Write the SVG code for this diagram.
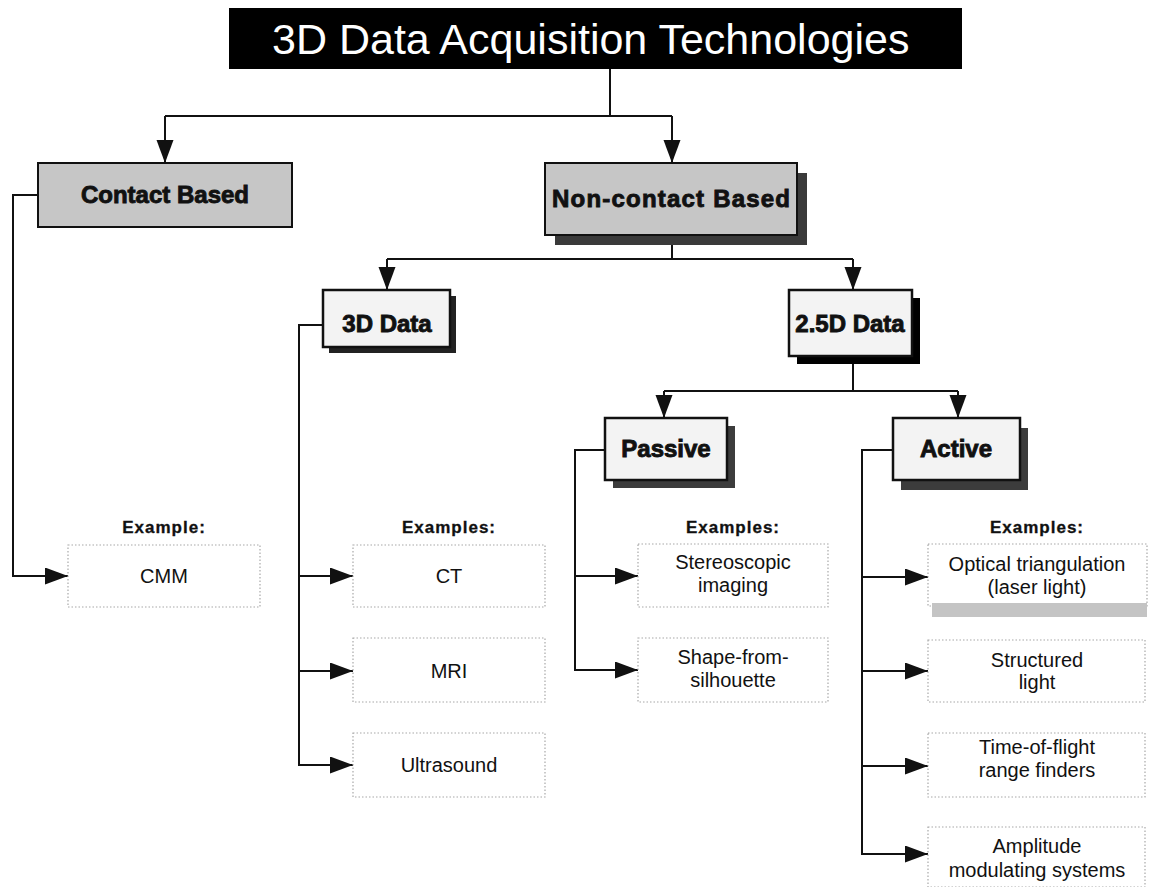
<svg xmlns="http://www.w3.org/2000/svg" width="1150" height="887" viewBox="0 0 1150 887">
<style>
.title{font-family:"Liberation Sans",Arial,sans-serif;font-size:43px;fill:#fff}
.nl{font-family:"Liberation Sans",Arial,sans-serif;font-weight:bold;font-size:24px;fill:#111;stroke:#111;stroke-width:0.9;text-anchor:middle}
.ex{font-family:"Liberation Sans",Arial,sans-serif;font-weight:bold;font-size:17px;letter-spacing:1px;fill:#111;stroke:#111;stroke-width:0.3;text-anchor:middle}
.et{font-family:"Liberation Sans",Arial,sans-serif;font-size:20px;fill:#111;text-anchor:middle}
.dark{fill:#c6c6c6;stroke:#111;stroke-width:2}
.light{fill:#f3f3f3;stroke:#111;stroke-width:2.5}
.eb{fill:#fff;stroke:#a8a8a8;stroke-width:1.2;stroke-dasharray:1.5 2}
.conn{fill:none;stroke:#111;stroke-width:2}
</style>
<defs>
<marker id="ah" markerUnits="userSpaceOnUse" markerWidth="24" markerHeight="18" refX="23" refY="8.5" orient="auto">
<path d="M0,0 L23,8.5 L0,17 z" fill="#111"/>
</marker>
</defs>
<rect width="1150" height="887" fill="#fff"/>

<g id="title">
<rect x="229" y="8" width="733" height="61" fill="#000"/>
<text class="title" x="272" y="54">3D Data Acquisition Technologies</text>
</g>

<g id="connectors">
<path class="conn" d="M610,69 V116"/>
<path class="conn" d="M165,116 H672"/>
<path class="conn" d="M165,116 V163" marker-end="url(#ah)"/>
<path class="conn" d="M672,116 V163" marker-end="url(#ah)"/>
<path class="conn" d="M672,245 V259"/>
<path class="conn" d="M387,259 H853"/>
<path class="conn" d="M387,259 V290" marker-end="url(#ah)"/>
<path class="conn" d="M853,259 V290" marker-end="url(#ah)"/>
<path class="conn" d="M853,364 V391"/>
<path class="conn" d="M664,391 H958"/>
<path class="conn" d="M664,391 V418" marker-end="url(#ah)"/>
<path class="conn" d="M958,391 V418" marker-end="url(#ah)"/>
<path class="conn" d="M38,195 H13 V576 H68" marker-end="url(#ah)"/>
<path class="conn" d="M323,325 H299 V765 H353" marker-end="url(#ah)"/>
<path class="conn" d="M299,576 H353" marker-end="url(#ah)"/>
<path class="conn" d="M299,671 H353" marker-end="url(#ah)"/>
<path class="conn" d="M605,450 H575 V670 H638" marker-end="url(#ah)"/>
<path class="conn" d="M575,576 H638" marker-end="url(#ah)"/>
<path class="conn" d="M893,450 H862 V854 H928" marker-end="url(#ah)"/>
<path class="conn" d="M862,577 H928" marker-end="url(#ah)"/>
<path class="conn" d="M862,671 H928" marker-end="url(#ah)"/>
<path class="conn" d="M862,766 H928" marker-end="url(#ah)"/>
</g>

<g id="contact-based">
<rect class="dark" x="38" y="163" width="254" height="64"/>
<text class="nl" x="165" y="203">Contact Based</text>
</g>

<g id="non-contact-based">
<rect x="555" y="173" width="252" height="72" fill="#3a3a3a"/>
<rect class="dark" x="545" y="163" width="252" height="72"/>
<text class="nl" x="671" y="207" textLength="238" lengthAdjust="spacing">Non-contact Based</text>
</g>

<g id="data-3d">
<rect x="329" y="296" width="127" height="57" fill="#222"/>
<rect class="light" x="323" y="290" width="127" height="57"/>
<text class="nl" x="387" y="332">3D Data</text>
</g>

<g id="data-25d">
<rect x="797" y="298" width="123" height="66" fill="#000"/>
<rect class="light" x="789" y="290" width="123" height="66"/>
<text class="nl" x="850" y="332">2.5D Data</text>
</g>

<g id="passive">
<rect x="613" y="426" width="122" height="62" fill="#3c3c3c"/>
<rect class="light" x="605" y="418" width="122" height="62"/>
<text class="nl" x="666" y="457">Passive</text>
</g>

<g id="active">
<rect x="901" y="428" width="127" height="62" fill="#3c3c3c"/>
<rect class="light" x="893" y="418" width="127" height="62"/>
<text class="nl" x="956" y="457">Active</text>
</g>

<g id="label-example-contact"><text class="ex" x="164" y="533">Example:</text></g>
<g id="label-examples-3d"><text class="ex" x="449" y="533">Examples:</text></g>
<g id="label-examples-passive"><text class="ex" x="733" y="533">Examples:</text></g>
<g id="label-examples-active"><text class="ex" x="1037" y="533">Examples:</text></g>

<g id="ex-cmm">
<rect class="eb" x="68" y="545" width="192" height="62"/>
<text class="et" x="164" y="583">CMM</text>
</g>
<g id="ex-ct">
<rect class="eb" x="353" y="545" width="192" height="62"/>
<text class="et" x="449" y="583">CT</text>
</g>
<g id="ex-mri">
<rect class="eb" x="353" y="638" width="192" height="64"/>
<text class="et" x="449" y="678">MRI</text>
</g>
<g id="ex-ultrasound">
<rect class="eb" x="353" y="733" width="192" height="64"/>
<text class="et" x="449" y="772">Ultrasound</text>
</g>
<g id="ex-stereo">
<rect class="eb" x="638" y="544" width="190" height="63"/>
<text class="et" x="733" y="569">Stereoscopic</text>
<text class="et" x="733" y="592">imaging</text>
</g>
<g id="ex-silhouette">
<rect class="eb" x="638" y="638" width="190" height="64"/>
<text class="et" x="733" y="664">Shape-from-</text>
<text class="et" x="733" y="687">silhouette</text>
</g>
<g id="ex-optical">
<rect class="eb" x="928" y="544" width="219" height="62"/>
<rect x="932" y="603" width="215" height="14" fill="#c4c4c4"/>
<text class="et" x="1037" y="571">Optical triangulation</text>
<text class="et" x="1037" y="594">(laser light)</text>
</g>
<g id="ex-structured">
<rect class="eb" x="928" y="640" width="217" height="62"/>
<text class="et" x="1037" y="667">Structured</text>
<text class="et" x="1037" y="689">light</text>
</g>
<g id="ex-tof">
<rect class="eb" x="928" y="733" width="217" height="64"/>
<text class="et" x="1037" y="754">Time-of-flight</text>
<text class="et" x="1037" y="777">range finders</text>
</g>
<g id="ex-amplitude">
<rect class="eb" x="928" y="827" width="217" height="60"/>
<text class="et" x="1037" y="853">Amplitude</text>
<text class="et" x="1037" y="877">modulating systems</text>
</g>
</svg>
